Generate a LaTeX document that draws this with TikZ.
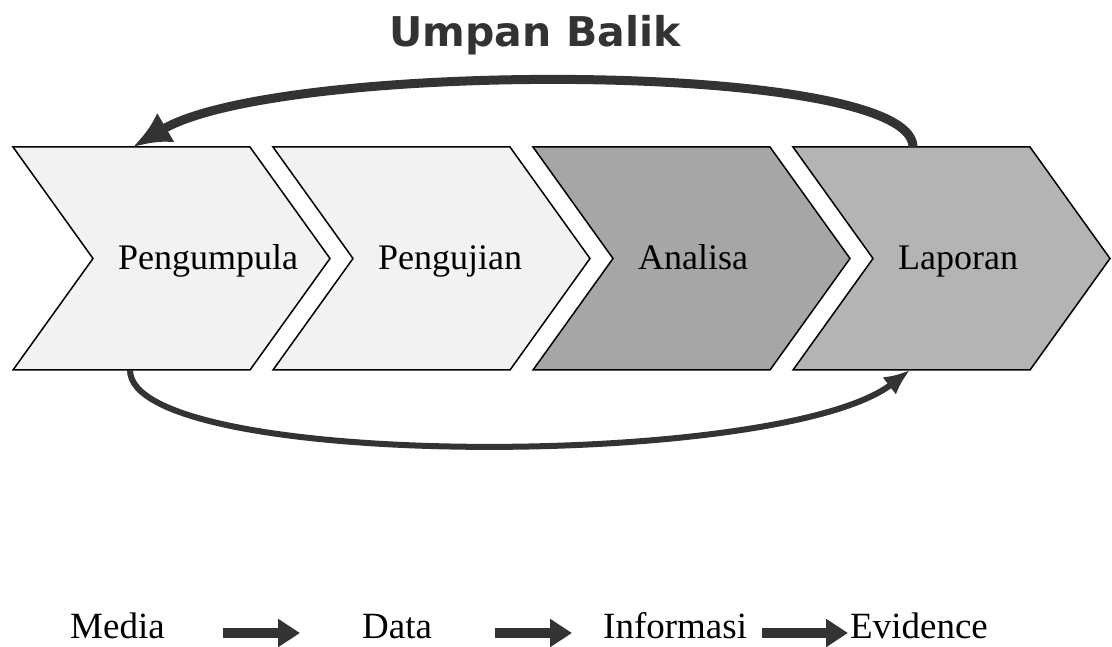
\documentclass[tikz,border=0pt]{standalone}
\usepackage{fontspec}
\setmainfont{Liberation Serif}
\newfontfamily\titlefont{DejaVu Sans}
\usetikzlibrary{arrows.meta}

\definecolor{lightfill}{HTML}{F2F2F2}
\definecolor{darkfill}{HTML}{A6A6A6}
\definecolor{midfill}{HTML}{B4B4B4}
\definecolor{arcgray}{HTML}{333333}

\begin{document}
\begin{tikzpicture}[x=1pt,y=-1pt,
  chevron/.style={draw=black,line width=1.5pt,line join=miter},
  steplabel/.style={font=\fontsize{36}{40}\selectfont,anchor=base west,inner sep=0pt},
  flowlabel/.style={font=\fontsize{37}{40}\selectfont,anchor=base west,inner sep=0pt},
  flowarrow/.style={arcgray,line width=10pt,-{Triangle[length=22pt,width=27pt]}},
  feedback/.style={arcgray,line width=9pt,-{Latex[length=38pt,width=34pt]}},
  forward/.style={arcgray,line width=6pt,-{Latex[length=26pt,width=22pt]}}]

\fill[white] (0,0) rectangle (1112,645);

% the four steps
\foreach \x/\col/\name/\txt in {13/lightfill/pgm/Pengumpula, 273/lightfill/pgj/Pengujian,
    533/darkfill/ana/Analisa, 793/midfill/lap/Laporan} {
  \draw[chevron,fill=\col] (\x,147) -- ++(237,0) -- ++(80,111.5) -- ++(-80,111.5)
    -- ++(-237,0) -- ++(80,-111.5) -- cycle;
  \node[steplabel] (\name) at (\x+105,270) {\txt};
  \coordinate (\name-top) at (\x+120,147);
  \coordinate (\name-bot) at (\x+117,370);
};

\node[font=\titlefont\bfseries\fontsize{41}{45}\selectfont,text=arcgray,anchor=base] (title) at (535,47) {Umpan Balik};

% feedback and forward arcs
\draw[feedback] (lap-top) .. controls +(0,-87) and +(147,-87) .. (pgm-top);
\draw[forward] (pgm-bot) .. controls +(0,100) and +(-130,100) .. (lap-bot);

% bottom row
\node[flowlabel] (media) at (70,638) {Media};
\node[flowlabel] (data) at (362,638) {Data};
\node[flowlabel] (info) at (603,638) {Informasi};
\node[flowlabel] (evid) at (850,638) {Evidence};

\draw[flowarrow] ([shift={(58,-5)}]media.base east) -- ([shift={(-62,-5)}]data.base west);
\draw[flowarrow] ([shift={(63,-5)}]data.base east) -- ([shift={(-31,-5)}]info.base west);
\draw[flowarrow] ([shift={(15,-5)}]info.base east) -- ([shift={(-2,-5)}]evid.base west);
\end{tikzpicture}
\end{document}
